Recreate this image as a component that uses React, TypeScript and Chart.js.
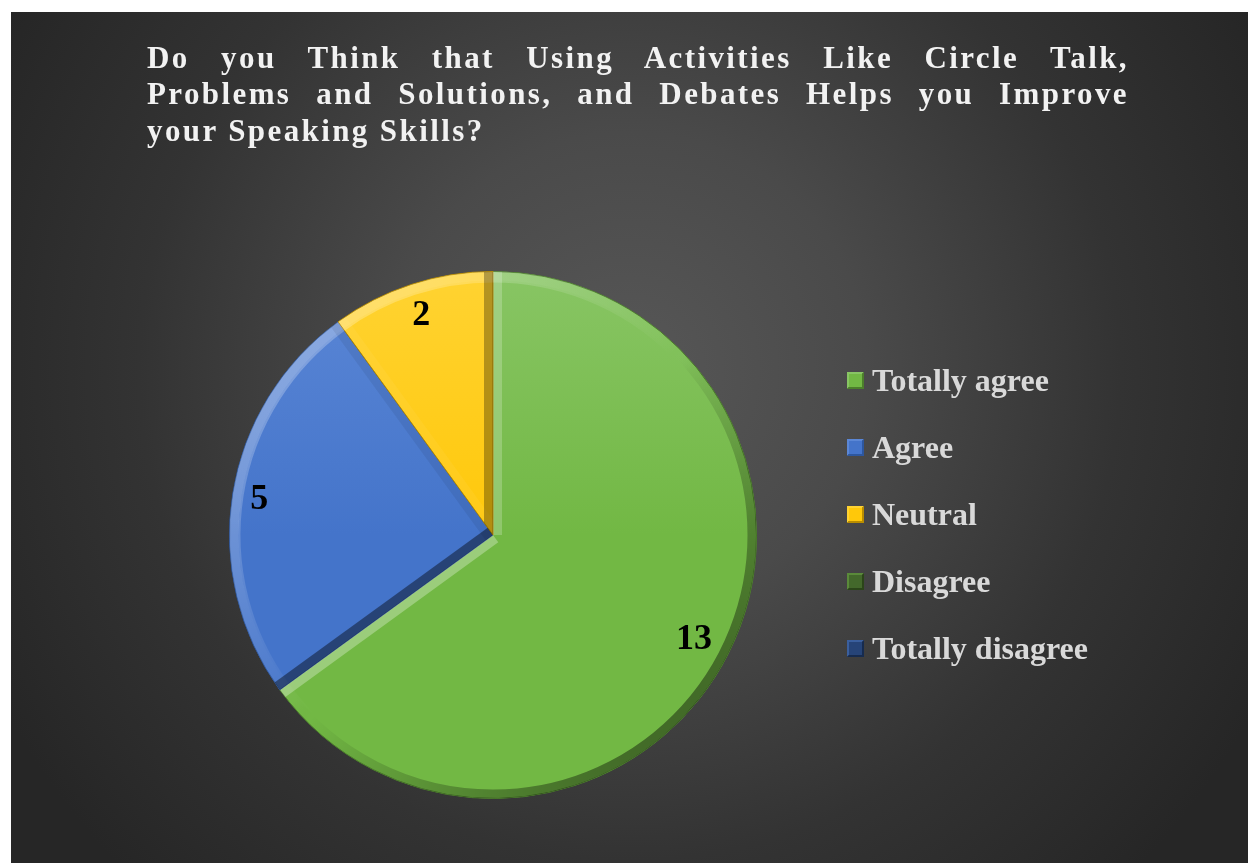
import React, { useEffect, useRef } from "react";
import { Chart, registerables } from "chart.js";

Chart.register(...registerables);

const TITLE_LINES = [
  "Do you Think that Using Activities Like Circle Talk,",
  "Problems and Solutions, and Debates Helps you Improve",
  "your Speaking Skills?",
];
const CATEGORIES = ["Totally agree", "Agree", "Neutral", "Disagree", "Totally disagree"];
const VALUES = [13, 5, 2, 0, 0];
const BASE_COLORS = ["#72b844", "#4474ca", "#ffc80a", "#43682b", "#264478"];
const LIGHT_COLORS = ["#88c564", "#5b87d6", "#ffd332", "#5a8a3a", "#3a5f9e"];
const DARK_COLORS = ["#4c7f2b", "#2d579f", "#b98d00", "#2b4519", "#162b4f"];

const FONT = "'Liberation Serif', 'Times New Roman', serif";
const LIGHT_DIR = { x: -Math.SQRT1_2, y: -Math.SQRT1_2 };

function shadeColor(s: number): string {
  if (s >= 0) return `rgba(255,255,255,${(0.3 * s).toFixed(3)})`;
  return `rgba(0,0,0,${(0.42 * -s).toFixed(3)})`;
}

const bevelPlugin = {
  id: "bevel",
  afterDatasetDraw(chart: any) {
    const ctx = chart.ctx as CanvasRenderingContext2D;
    const meta = chart.getDatasetMeta(0);
    meta.data.forEach((arc: any) => {
      const p = arc.getProps(["x", "y", "startAngle", "endAngle", "outerRadius"], true);
      const { x, y, startAngle: s, endAngle: e, outerRadius: R } = p;
      if (e - s < 1e-6) return;
      ctx.save();
      ctx.beginPath();
      ctx.moveTo(x, y);
      ctx.arc(x, y, R, s, e);
      ctx.closePath();
      ctx.clip();
      const N = 72;
      const g = (ctx as any).createConicGradient(0, x, y);
      for (let i = 0; i <= N; i++) {
        const a = (i / N) * Math.PI * 2;
        const sh = Math.cos(a) * LIGHT_DIR.x + Math.sin(a) * LIGHT_DIR.y;
        g.addColorStop(i / N, shadeColor(sh));
      }
      ctx.strokeStyle = g;
      ctx.lineWidth = 9;
      ctx.beginPath();
      ctx.arc(x, y, R - 4.5, s, e);
      ctx.stroke();
      const g2 = (ctx as any).createConicGradient(0, x, y);
      for (let i = 0; i <= N; i++) {
        const a = (i / N) * Math.PI * 2;
        const sh = Math.cos(a) * LIGHT_DIR.x + Math.sin(a) * LIGHT_DIR.y;
        g2.addColorStop(i / N, `rgba(255,255,255,${(0.25 * Math.max(sh, 0)).toFixed(3)})`);
      }
      ctx.strokeStyle = g2;
      ctx.lineWidth = 2;
      ctx.beginPath();
      ctx.arc(x, y, R - 10, s, e);
      ctx.stroke();
      const edges = [
        { a: s, n: { x: Math.sin(s), y: -Math.cos(s) } },
        { a: e, n: { x: -Math.sin(e), y: Math.cos(e) } },
      ];
      edges.forEach((ed) => {
        const sh = ed.n.x * LIGHT_DIR.x + ed.n.y * LIGHT_DIR.y;
        ctx.strokeStyle = shadeColor(sh);
        ctx.lineWidth = 18;
        ctx.beginPath();
        ctx.moveTo(x, y);
        ctx.lineTo(x + R * Math.cos(ed.a), y + R * Math.sin(ed.a));
        ctx.stroke();
      });
      ctx.restore();
    });
  },
};

const valueLabelPlugin = {
  id: "valueLabels",
  afterDatasetsDraw(chart: any) {
    const ctx = chart.ctx as CanvasRenderingContext2D;
    const meta = chart.getDatasetMeta(0);
    const data = chart.data.datasets[0].data as number[];
    ctx.save();
    ctx.font = `bold 36px ${FONT}`;
    ctx.fillStyle = "#000000";
    ctx.textAlign = "center";
    ctx.textBaseline = "middle";
    meta.data.forEach((arc: any, i: number) => {
      if (!data[i]) return;
      const p = arc.getProps(["x", "y", "startAngle", "endAngle", "outerRadius"], true);
      const mid = (p.startAngle + p.endAngle) / 2;
      const txt = String(data[i]);
      const hw = ctx.measureText(txt).width / 2;
      const hh = 13;
      const c = Math.cos(mid);
      const sn = Math.sin(mid);
      const d = p.outerRadius - 16 - (hw * Math.abs(c) + hh * Math.abs(sn));
      ctx.fillText(txt, p.x + d * c, p.y + d * sn + 2);
    });
    ctx.restore();
  },
};

const legendPlugin = {
  id: "customLegend",
  afterDraw(chart: any) {
    const ctx = chart.ctx as CanvasRenderingContext2D;
    const labels = chart.data.labels as string[];
    const x0 = 836;
    const y0 = 360;
    const step = 67;
    const size = 17;
    ctx.save();
    labels.forEach((lab, i) => {
      const top = y0 + i * step;
      ctx.beginPath();
      ctx.moveTo(x0, top);
      ctx.lineTo(x0 + size, top);
      ctx.lineTo(x0, top + size);
      ctx.closePath();
      ctx.fillStyle = LIGHT_COLORS[i];
      ctx.fill();
      ctx.beginPath();
      ctx.moveTo(x0 + size, top);
      ctx.lineTo(x0 + size, top + size);
      ctx.lineTo(x0, top + size);
      ctx.closePath();
      ctx.fillStyle = DARK_COLORS[i];
      ctx.fill();
      ctx.fillStyle = BASE_COLORS[i];
      ctx.fillRect(x0 + 2, top + 2, size - 4, size - 4);
      ctx.font = `bold 32px ${FONT}`;
      ctx.fillStyle = "#d9d9d9";
      ctx.textAlign = "left";
      ctx.textBaseline = "alphabetic";
      ctx.fillText(lab, 861, top + 19);
    });
    ctx.restore();
  },
};

export default function App() {
  const canvasRef = useRef<HTMLCanvasElement | null>(null);

  useEffect(() => {
    const canvas = canvasRef.current;
    if (!canvas) return;
    const chart = new Chart(canvas, {
      type: "pie",
      data: {
        labels: CATEGORIES,
        datasets: [
          {
            data: VALUES,
            backgroundColor: (c: any) => {
              const ch = c.chart;
              const area = ch.chartArea;
              const i = c.dataIndex;
              if (!area) return BASE_COLORS[i];
              const g = ch.ctx.createLinearGradient(0, area.top, 0, area.bottom);
              g.addColorStop(0, LIGHT_COLORS[i]);
              g.addColorStop(0.5, BASE_COLORS[i]);
              g.addColorStop(1, BASE_COLORS[i]);
              return g;
            },
            borderColor: DARK_COLORS,
            borderWidth: 1,
          },
        ],
      },
      options: {
        animation: false,
        responsive: false,
        maintainAspectRatio: false,
        layout: { padding: { left: 218, right: 491, top: 259, bottom: 64 } },
        plugins: {
          legend: { display: false },
          tooltip: { enabled: false },
          title: { display: false },
        },
      },
      plugins: [bevelPlugin, valueLabelPlugin, legendPlugin],
    });
    return () => chart.destroy();
  }, []);

  return (
    <div
      style={{
        position: "absolute",
        left: 0,
        top: 0,
        width: 1248,
        height: 863,
        background: "#ffffff",
        overflow: "hidden",
      }}
    >
      <div
        style={{
          position: "absolute",
          left: 11,
          top: 12,
          width: 1237,
          height: 851,
          background:
            "radial-gradient(circle at 50% 42%, #575757 0%, #4a4a4a 30%, #333333 62%, #262626 90%)",
        }}
      >
        <canvas ref={canvasRef} width={1237} height={851} style={{ position: "absolute", left: 0, top: 0 }} />
        {TITLE_LINES.map((line, i) => (
          <div
            key={i}
            style={{
              position: "absolute",
              left: 136,
              top: 27.5 + i * 36.5,
              width: 982,
              fontFamily: FONT,
              fontWeight: "bold",
              fontSize: 31,
              lineHeight: "36px",
              letterSpacing: "2.4px",
              color: "#f2f2f2",
              whiteSpace: "nowrap",
              textAlign: i < TITLE_LINES.length - 1 ? "justify" : "left",
              textAlignLast: i < TITLE_LINES.length - 1 ? "justify" : "left",
            } as React.CSSProperties}
          >
            {line}
          </div>
        ))}
      </div>
    </div>
  );
}
